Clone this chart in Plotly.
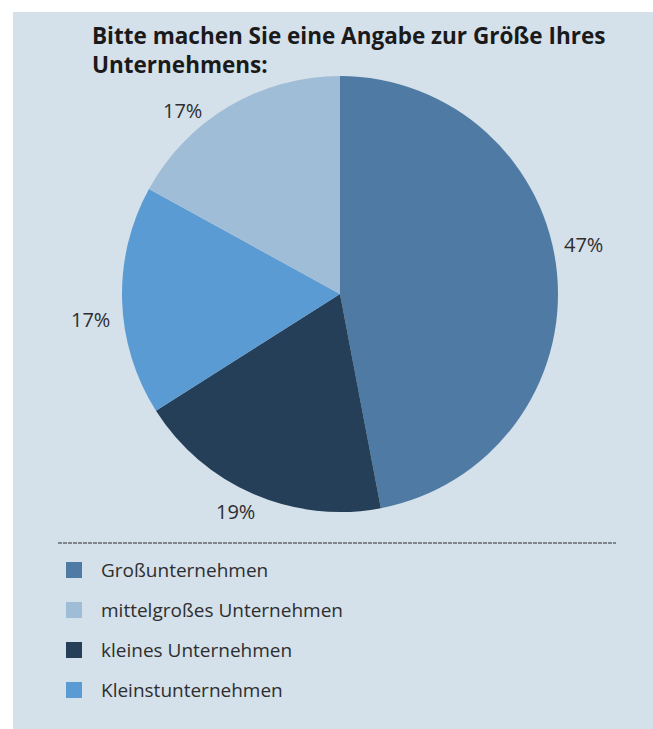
import plotly.graph_objects as go

# Slice data, in clockwise drawing order starting at 12 o'clock
slice_labels = ["Großunternehmen", "kleines Unternehmen", "Kleinstunternehmen", "mittelgroßes Unternehmen"]
slice_values = [47, 19, 17, 17]
slice_colors = ["#4e7aa3", "#243f57", "#5b9bd4", "#a0bdd7"]

# Legend order as listed below the chart
legend_labels = ["Großunternehmen", "mittelgroßes Unternehmen", "kleines Unternehmen", "Kleinstunternehmen"]

title_lines = ["Bitte machen Sie eine Angabe zur Größe Ihres", "Unternehmens:"]

W, H = 653, 729
FONT = "Open Sans"
TEXT_COLOR = "#2e2e2e"
BG = "#d4e0ea"


def px_x(x):
    return x / W


def px_y(y):
    return 1 - y / H


# Pie geometry (pixels)
cx, cy, r = 340, 294, 218

# Where each percentage label sits (pixels), same order as the slices
label_pos = [(583, 244), (235, 511), (90, 320), (182, 111)]

fig = go.Figure()
fig.add_trace(go.Pie(
    labels=slice_labels,
    values=slice_values,
    marker=dict(colors=slice_colors, line=dict(width=0)),
    sort=False,
    direction="clockwise",
    rotation=0,
    textinfo="none",
    hoverinfo="label+percent",
    showlegend=False,
    domain=dict(x=[px_x(cx - r), px_x(cx + r)], y=[px_y(cy + r), px_y(cy - r)]),
))

shapes = [
    # background panel
    dict(type="rect", xref="paper", yref="paper", x0=px_x(13), x1=1.0, y0=0.0, y1=px_y(12),
         fillcolor=BG, line=dict(width=0), layer="below"),
    # dashed separator above the legend
    dict(type="line", xref="paper", yref="paper", x0=px_x(58), x1=px_x(616), y0=px_y(543), y1=px_y(543),
         line=dict(color="#2a2a2a", width=1, dash="4px,1px")),
]

annotations = []
for i, line in enumerate(title_lines):
    annotations.append(dict(text=f"<b>{line}</b>", xref="paper", yref="paper",
                            x=px_x(90), y=px_y(35 + i * 29), xanchor="left", yanchor="middle",
                            align="left", showarrow=False,
                            font=dict(family=FONT, size=22.5, color="#1a1a1a")))

# Percentage labels beside each slice
for v, (lx, ly) in zip(slice_values, label_pos):
    annotations.append(dict(text=f"{v}%", xref="paper", yref="paper", x=px_x(lx), y=px_y(ly),
                            xanchor="center", yanchor="middle", showarrow=False,
                            font=dict(family=FONT, size=20, color=TEXT_COLOR)))

# Legend: coloured squares with labels
color_of = dict(zip(slice_labels, slice_colors))
for i, name in enumerate(legend_labels):
    yc = 570 + i * 40
    shapes.append(dict(type="rect", xref="paper", yref="paper",
                       x0=px_x(66), x1=px_x(82), y0=px_y(yc + 8), y1=px_y(yc - 8),
                       fillcolor=color_of[name], line=dict(width=0)))
    annotations.append(dict(text=name, xref="paper", yref="paper", x=px_x(99), y=px_y(yc),
                            xanchor="left", yanchor="middle", showarrow=False,
                            font=dict(family=FONT, size=19, color=TEXT_COLOR)))

fig.update_layout(
    width=W, height=H,
    margin=dict(l=0, r=0, t=0, b=0),
    paper_bgcolor="white",
    plot_bgcolor="white",
    shapes=shapes,
    annotations=annotations,
)

fig.write_html("out.html")
